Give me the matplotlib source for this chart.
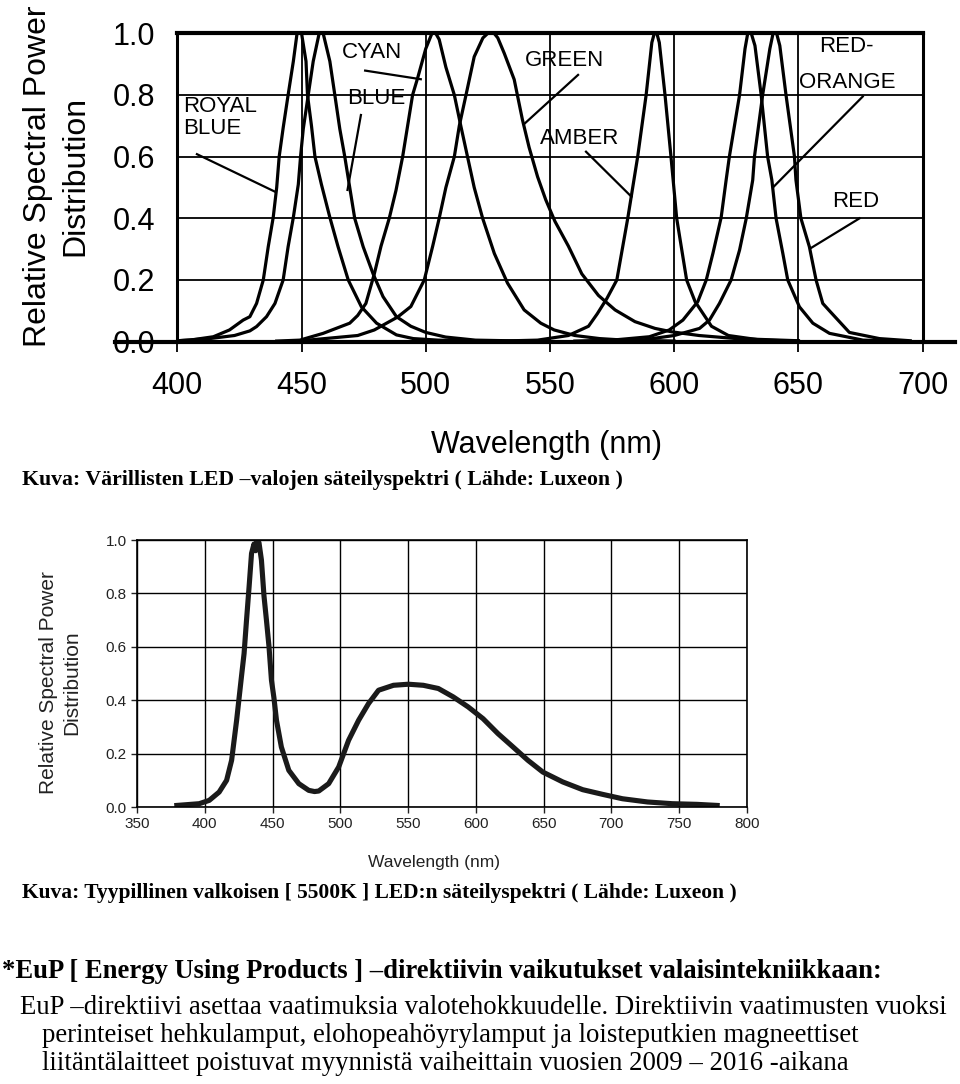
import matplotlib
matplotlib.use('Agg')
import matplotlib.pyplot as plt

plt.rcParams['font.family'] = ['Liberation Sans', 'DejaVu Sans']

# Värilliset LEDit: aallonpituus (nm) ja suhteellinen säteilyteho
royal_wl = [400, 405, 414.5, 421, 426.5, 429.2, 431.9, 434.6, 436.6, 438.6, 440, 441, 442.6, 444.6,
            446.7, 448.2, 450, 451.8, 452.4, 454, 455.4, 458, 461.4, 464.7, 468.8, 474.1, 480.2,
            488.2, 495, 505, 520]
royal_val = [0.003, 0.005, 0.016, 0.038, 0.07, 0.081, 0.124, 0.2, 0.308, 0.403, 0.5, 0.6, 0.693, 0.8,
             0.909, 1.0, 1.0, 0.909, 0.8, 0.7, 0.6, 0.51, 0.403, 0.308, 0.2, 0.113, 0.06,
             0.022, 0.01, 0.005, 0.002]

blue_wl = [400, 413, 423, 429.2, 431.9, 435.9, 439.3, 442.6, 444.6, 446.7, 448.7, 449.6, 450.7, 452.7,
           454.7, 457.1, 458.7, 461.4, 463.4, 465.4, 467.4, 469.2, 471.4, 474.8, 478.8, 482.8, 488.2,
           494, 500, 508, 520, 540]
blue_val = [0.003, 0.01, 0.02, 0.035, 0.049, 0.081, 0.124, 0.2, 0.308, 0.403, 0.51, 0.6, 0.69, 0.8,
            0.909, 1.0, 1.0, 0.909, 0.8, 0.69, 0.6, 0.51, 0.4, 0.308, 0.22, 0.146, 0.081,
            0.05, 0.03, 0.015, 0.005, 0.002]

cyan_wl = [440, 449.3, 458.7, 469.4, 472.6, 475.9, 479.3, 482, 485.3, 488, 490.7, 492.7, 494.7, 496.7,
           500, 502.5, 504, 505.4, 508.1, 511.5, 514.1, 516.8, 519.5, 522.9, 527.6, 532.9, 539.6,
           546.3, 551.7, 560, 570, 580, 600]
cyan_val = [0.002, 0.005, 0.027, 0.06, 0.085, 0.124, 0.22, 0.31, 0.4, 0.49, 0.6, 0.7, 0.8, 0.854,
            0.95, 1.0, 1.0, 0.98, 0.89, 0.8, 0.7, 0.6, 0.5, 0.4, 0.286, 0.19, 0.103,
            0.06, 0.038, 0.02, 0.01, 0.005, 0.002]

green_wl = [450, 472.6, 479.3, 488.7, 494, 499.4, 502.8, 505.4, 508.1, 511.5, 513.5, 516.2, 519.5, 523,
            525, 527.5, 529, 531.6, 535.6, 538.9, 541.6, 545, 548.3, 552, 557.4, 562.8, 569.5, 576.2,
            584.2, 592.3, 599, 610, 625, 650]
green_val = [0.003, 0.02, 0.038, 0.08, 0.114, 0.2, 0.31, 0.4, 0.5, 0.6, 0.7, 0.8, 0.924, 0.985,
             1.0, 1.0, 0.985, 0.935, 0.85, 0.72, 0.63, 0.535, 0.46, 0.39, 0.31, 0.22, 0.15, 0.103,
             0.065, 0.043, 0.032, 0.02, 0.01, 0.003]

amber_wl = [530, 545, 557.4, 565.5, 569, 572.9, 576.9, 581.3, 585.3, 588.7, 591, 592, 593, 594, 596.3,
            598.7, 601, 605, 608.4, 615, 621.8, 635, 650]
amber_val = [0.002, 0.005, 0.02, 0.05, 0.09, 0.14, 0.2, 0.4, 0.6, 0.8, 0.97, 1.0, 1.0, 0.97, 0.8,
             0.6, 0.4, 0.2, 0.13, 0.05, 0.02, 0.005, 0.002]

redorange_wl = [560, 575, 590, 598, 603.5, 609.5, 612.9, 615.6, 618.9, 620.9, 622.2, 626.3, 628.5, 629.6,
                631, 632.5, 635, 637.6, 639.3, 641, 643.7, 645.7, 650.4, 655.8, 662.5, 676, 690]
redorange_val = [0.002, 0.005, 0.016, 0.038, 0.07, 0.13, 0.2, 0.287, 0.403, 0.524, 0.6, 0.8, 0.95, 1.0,
                 1.0, 0.96, 0.8, 0.6, 0.524, 0.4, 0.287, 0.2, 0.113, 0.06, 0.027, 0.005, 0.002]

red_wl = [585, 600, 610.2, 614.2, 618.2, 622.9, 626.3, 629, 631.6, 632.3, 635.6, 638.5, 639.8, 641.2,
          642.5, 645, 648.4, 649, 651, 654.4, 657.1, 659.8, 662.5, 670.5, 682.6, 695]
red_val = [0.003, 0.02, 0.043, 0.07, 0.124, 0.2, 0.297, 0.4, 0.524, 0.6, 0.8, 0.95, 1.0, 1.0,
           0.96, 0.8, 0.6, 0.524, 0.4, 0.308, 0.2, 0.124, 0.1, 0.03, 0.01, 0.003]

# Valkoinen 5500K LED
white_wl = [379.4, 395.9, 403.3, 410.6, 416.1, 419.8, 423.5, 427.1, 429, 430.8, 432.7, 434.5, 436.3,
            437.5, 438.7, 440, 441.8, 443.7, 445.5, 447.4, 449.2, 451, 452.9, 456.5, 462, 469.4, 476.7,
            481, 484.1, 491.4, 498.8, 506.1, 513.5, 520.8, 528.2, 539.2, 550.2, 561.2, 572.3, 583.3,
            594.3, 605.3, 616.3, 627.4, 638.4, 649.4, 664.1, 678.8, 693.5, 708.2, 726.6, 744.9, 763.3, 778]
white_val = [0.006, 0.0125, 0.025, 0.056, 0.1, 0.175, 0.325, 0.49, 0.575, 0.7, 0.825, 0.95, 0.985,
             0.96, 1.0, 0.99, 0.925, 0.79, 0.7, 0.6, 0.475, 0.41, 0.325, 0.225, 0.1375, 0.0875, 0.0625,
             0.058, 0.06, 0.0875, 0.15, 0.25, 0.325, 0.3875, 0.4375, 0.456, 0.46, 0.456, 0.444, 0.4125,
             0.375, 0.331, 0.275, 0.225, 0.175, 0.131, 0.094, 0.065, 0.0475, 0.031, 0.019, 0.0125, 0.01, 0.006]

# Käyrien nimet, tekstin paikka ja viivan päätepisteet
labels = ['ROYAL\nBLUE', 'BLUE', 'CYAN', 'GREEN', 'AMBER', 'RED-', 'ORANGE', 'RED']
label_xy = [(402.3, 0.727), (468.2, 0.787), (466.2, 0.939), (539.8, 0.913), (545.8, 0.66),
            (658.4, 0.956), (650.4, 0.839), (663.6, 0.453)]
leaders = [((407.9, 0.608), (439.4, 0.486)), ((473.9, 0.735), (468.5, 0.492)),
           ((475.6, 0.879), (498.0, 0.851)), ((561.3, 0.865), (539.9, 0.708)),
           ((564.5, 0.616), (582.8, 0.47)), ((675.9, 0.795), (640.1, 0.503)),
           ((674.6, 0.40), (654.9, 0.303))]

top_xticks = [400, 450, 500, 550, 600, 650, 700]
top_yticks = [0.0, 0.2, 0.4, 0.6, 0.8, 1.0]
white_xticks = [350, 400, 450, 500, 550, 600, 650, 700, 750, 800]

fig = plt.figure(figsize=(9.6, 10.84), dpi=100)
serif = ['Liberation Serif', 'DejaVu Serif']

# --- Ylempi kuva: värilliset LEDit ---
ax1 = fig.add_axes([0.1847, 0.6848, 0.7764, 0.2845])
for wl, val in [(royal_wl, royal_val), (blue_wl, blue_val), (cyan_wl, cyan_val), (green_wl, green_val),
                (amber_wl, amber_val), (redorange_wl, redorange_val), (red_wl, red_val)]:
    ax1.plot(wl, val, color='black', lw=2.3)
ax1.set_xlim(400, 700)
ax1.set_ylim(0, 1)
ax1.set_xticks(top_xticks)
ax1.set_yticks(top_yticks)
ax1.set_yticklabels([f'{v:.1f}' for v in top_yticks])
ax1.grid(True, color='black', lw=1.3)
ax1.tick_params(axis='x', direction='out', length=7, width=1.3, pad=14, labelsize=22)
ax1.tick_params(axis='y', length=0, pad=16, labelsize=22)
ax1.spines['bottom'].set_visible(False)
ax1.spines['top'].set_linewidth(3)
ax1.spines['left'].set_linewidth(2.2)
ax1.spines['right'].set_linewidth(2.2)
ax1.axhline(0, xmin=-0.083, xmax=1.044, color='black', lw=3, clip_on=False)
for txt, (x, y) in zip(labels, label_xy):
    ax1.text(x, y, txt, fontsize=16, ha='left', va='center', linespacing=1.1)
for (x0, y0), (x1, y1) in leaders:
    ax1.plot([x0, x1], [y0, y1], color='black', lw=1.6)
fig.text(0.0589, 0.8376, 'Relative Spectral Power\nDistribution', rotation=90, fontsize=23,
         ha='center', va='center', linespacing=1.3)
fig.text(0.569, 1 - 445 / 1084, 'Wavelength (nm)', fontsize=22, ha='center', va='center')

fig.text(22 / 960, 1 - 480 / 1084, 'Kuva: Värillisten LED –valojen säteilyspektri ( Lähde: Luxeon )',
         family=serif, fontweight='bold', fontsize=15.7, ha='left', va='center')

# --- Alempi kuva: valkoinen LED ---
ax2 = fig.add_axes([0.1427, 0.2555, 0.6354, 0.2463])
ax2.plot(white_wl, white_val, color='#1a1a1a', lw=3.7)
ax2.set_xlim(350, 800)
ax2.set_ylim(0, 1)
ax2.set_xticks(white_xticks)
ax2.set_yticks(top_yticks)
ax2.set_yticklabels([f'{v:.1f}' for v in top_yticks])
ax2.grid(True, color='black', lw=1.0)
ax2.tick_params(direction='out', length=4, width=1.0, labelsize=11, colors='#222222')
for s in ax2.spines.values():
    s.set_linewidth(1.2)
fig.text(0.0625, 0.3699, 'Relative Spectral Power\nDistribution', rotation=90, fontsize=15,
         ha='center', va='center', color='#222222', linespacing=1.3)
fig.text(434 / 960, 1 - 862 / 1084, 'Wavelength (nm)', fontsize=12.5, ha='center', va='center',
         color='#222222')

fig.text(22 / 960, 1 - 893 / 1084,
         'Kuva: Tyypillinen valkoisen [ 5500K ] LED:n säteilyspektri ( Lähde: Luxeon )',
         family=serif, fontweight='bold', fontsize=15.5, ha='left', va='center')

# --- Teksti ---
fig.text(2 / 960, 1 - 972 / 1084,
         '*EuP [ Energy Using Products ] –direktiivin vaikutukset valaisintekniikkaan:',
         family=serif, fontweight='bold', fontsize=19.2, ha='left', va='center')
fig.text(20 / 960, 1 - 1007 / 1084,
         'EuP –direktiivi asettaa vaatimuksia valotehokkuudelle. Direktiivin vaatimusten vuoksi',
         family=serif, fontsize=19.3, ha='left', va='center')
fig.text(42 / 960, 1 - 1036 / 1084,
         'perinteiset hehkulamput, elohopeahöyrylamput ja loisteputkien magneettiset',
         family=serif, fontsize=19.3, ha='left', va='center')
fig.text(42 / 960, 1 - 1064 / 1084,
         'liitäntälaitteet poistuvat myynnistä vaiheittain vuosien 2009 – 2016 -aikana',
         family=serif, fontsize=19.3, ha='left', va='center')

fig.savefig('out.png', dpi=100, facecolor='white')
